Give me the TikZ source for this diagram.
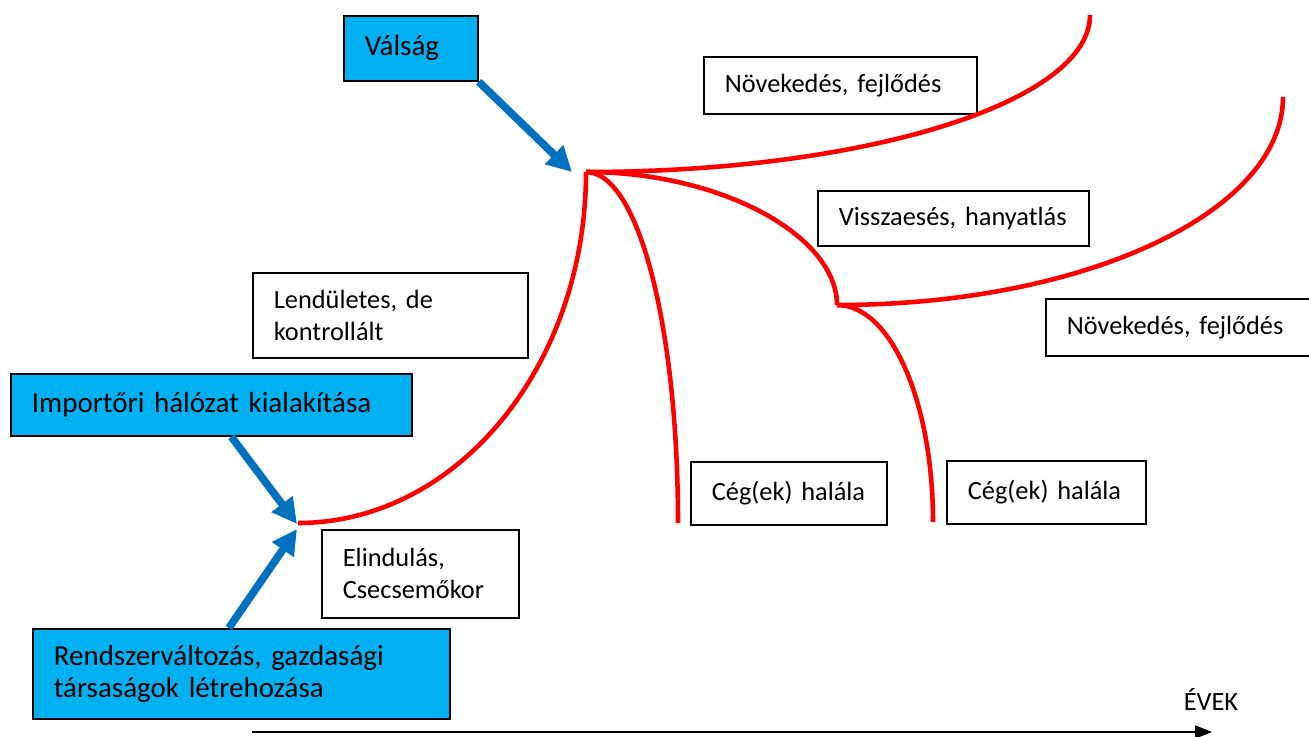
\documentclass[tikz,border=0pt]{standalone}
\usepackage{fontspec}
\setmainfont{Carlito}
\usetikzlibrary{arrows.meta}
\definecolor{boxblue}{HTML}{00B0F0}
\definecolor{arrowblue}{HTML}{0070C0}
\frenchspacing
\begin{document}
\begin{tikzpicture}[x=0.02cm,y=-0.02cm,
  stage/.style={draw, line width=1pt, anchor=north west, align=left, inner xsep=0.42cm, inner ysep=0pt, font=\fontsize{15}{18.2}\selectfont},
  event/.style={stage, fill=boxblue, font=\fontsize{16.5}{18.2}\selectfont},
  life/.style={red, line width=2.6pt},
  impulse/.style={arrowblue, line width=4.4pt, -{Triangle[length=0.5cm,width=0.5cm]}}]
\useasboundingbox (0,0) rectangle (1309,737);
% events
\node[event, text width=1.84cm, minimum height=1.3cm] (valsag) at (343,15) {Válság};
\node[event, text width=7.18cm, minimum height=1.24cm] (importor) at (10,373) {Importőri hálózat kialakítása};
\node[event, text width=7.5cm, minimum height=1.8cm] (rendszer) at (32,628) {Rendszerváltozás, gazdasági\\társaságok létrehozása};
% stages
\node[stage, text width=4.62cm, minimum height=1.14cm] (grow1) at (703,56) {Növekedés, fejlődés};
\node[stage, text width=4.66cm, minimum height=1.7cm] (boom) at (252,272) {Lendületes, de\\kontrollált};
\node[stage, text width=4.58cm, minimum height=1.1cm] (decline) at (817,190) {Visszaesés, hanyatlás};
\node[stage, text width=4.66cm, minimum height=1.14cm] (grow2) at (1045,298) {Növekedés, fejlődés};
\node[stage, text width=3.08cm, minimum height=1.26cm] (death1) at (690,461) {Cég(ek) halála};
\node[stage, text width=3.14cm, minimum height=1.26cm] (death2) at (946,460) {Cég(ek) halála};
\node[stage, text width=3.1cm, minimum height=1.76cm] (birth) at (321,529) {Elindulás,\\Csecsemőkor};
% life curve
\coordinate (start) at (298,523);
\coordinate (crisis) at (586,172);
\coordinate (fork) at (837,305);
\coordinate (top1) at (1090,15);
\coordinate (top2) at (1283,97);
\coordinate (end1) at (678,523);
\coordinate (end2) at (933,522);
\draw[life] (start) .. controls (457,523) and (586,366) .. (crisis);
\draw[life] (crisis) .. controls (866,172) and (1090,102) .. (top1);
\draw[life] (crisis) .. controls (639,172) and (678,329) .. (end1);
\draw[life] (crisis) .. controls (722,172) and (837,236) .. (fork);
\draw[life] (fork) .. controls (1085,305) and (1283,212) .. (top2);
\draw[life] (fork) .. controls (891,305) and (933,402) .. (end2);
% impulses
\coordinate (tipA) at (572,172);
\coordinate (tipB) at (297,524);
\coordinate (tipC) at (297,529);
\draw[impulse] (valsag.south east) -- (tipA);
\draw[impulse] ([xshift=0.4cm]importor.south) -- (tipB);
\draw[impulse] ([xshift=-0.25cm]rendszer.north) -- (tipC);
% time axis
\coordinate (t0) at (252,732);
\coordinate (t1) at (1212,732);
\draw[line width=1.1pt, -{Triangle[length=0.34cm,width=0.26cm]}] (t0) -- (t1);
\node[font=\fontsize{15}{18}\selectfont] (years) at (1211,699) {ÉVEK};
\end{tikzpicture}
\end{document}
